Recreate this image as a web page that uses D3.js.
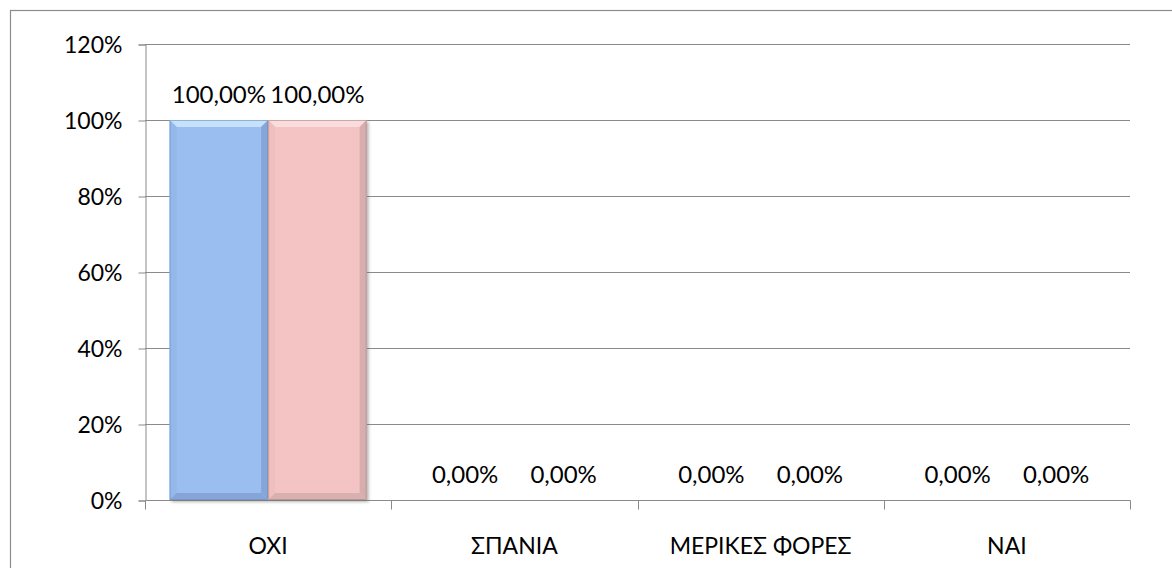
<!DOCTYPE html>
<html>
<head>
<meta charset="utf-8">
<script src="https://cdn.jsdelivr.net/npm/d3@7"></script>
<style>
html,body{margin:0;padding:0;background:#fff;}
svg{display:block;}
text{font-family:Lato,"Open Sans",sans-serif;fill:#000;}
</style>
</head>
<body>
<svg id="chart" width="1172" height="568"></svg>
<script>
const categories = ["ΟΧΙ", "ΣΠΑΝΙΑ", "ΜΕΡΙΚΕΣ ΦΟΡΕΣ", "ΝΑΙ"];
const seriesA = [1.00, 0.00, 0.00, 0.00];
const seriesB = [1.00, 0.00, 0.00, 0.00];
const yTickValues = [0, 0.2, 0.4, 0.6, 0.8, 1.0, 1.2];

const svg = d3.select("#chart");
const W = 1172, H = 568;
const plot = {left: 145, right: 1130, top: 44, bottom: 500};

const locale = d3.formatLocale({decimal: ",", thousands: ".", grouping: [3], currency: ["", "€"]});
const fmtLabel = locale.format(".2%");
const fmtTick = locale.format(".0%");

// outer border
svg.append("rect").attr("x", 10.5).attr("y", 10.5).attr("width", W).attr("height", H)
  .attr("fill", "#fff").attr("stroke", "#8c8c8c").attr("stroke-width", 1.2);

const x = d3.scaleBand().domain(categories).range([plot.left, plot.right]).padding(0);
const inner = d3.scaleBand().domain([0, 1]).range([0, x.bandwidth()]).paddingInner(0).paddingOuter(0.25);
const y = d3.scaleLinear().domain([0, 1.2]).range([plot.bottom, plot.top]);

// gridlines
svg.append("g").selectAll("line").data(yTickValues.filter(d => d > 0)).join("line")
  .attr("x1", plot.left).attr("x2", plot.right)
  .attr("y1", d => Math.round(y(d)) + 0.5).attr("y2", d => Math.round(y(d)) + 0.5)
  .attr("stroke", "#8a8a8a").attr("stroke-width", 1);

// y axis
const yAxis = svg.append("g").attr("transform", `translate(${plot.left + 0.5},0.5)`)
  .call(d3.axisLeft(y).tickValues(yTickValues).tickFormat(fmtTick).tickSize(7).tickPadding(16));
yAxis.select(".domain").attr("stroke", "#8a8a8a");
yAxis.selectAll(".tick line").attr("stroke", "#8a8a8a");
yAxis.selectAll(".tick text").attr("font-size", 23).attr("font-family", "Lato,'Open Sans',sans-serif")
  .attr("dy", "0.36em").attr("fill", "#000");

// x axis
const xAxis = svg.append("g").attr("transform", `translate(0.5,${plot.bottom + 0.5})`);
xAxis.append("line").attr("x1", plot.left).attr("x2", plot.right).attr("stroke", "#8a8a8a");
const boundaries = categories.map(c => x(c)).concat([plot.right]);
xAxis.selectAll("line.tk").data(boundaries).join("line").attr("class", "tk")
  .attr("x1", d => Math.round(d)).attr("x2", d => Math.round(d)).attr("y1", 0).attr("y2", 9)
  .attr("stroke", "#8a8a8a");
svg.append("g").selectAll("text").data(categories).join("text")
  .attr("x", d => x(d) + x.bandwidth() / 2).attr("y", 554)
  .attr("text-anchor", "middle").attr("font-size", 23).text(d => d);

// defs
const defs = svg.append("defs");
const filt = defs.append("filter").attr("id", "shadow").attr("x", "-10%").attr("y", "-10%").attr("width", "130%").attr("height", "130%");
filt.append("feGaussianBlur").attr("stdDeviation", 1.5);

const palettes = [
  {main: "#9bbef0", top: "#c6e1fa", left: "#94b8ec", right: "#86a6d8", bottom: "#86a5d6", stroke: "#6f8dbd"},
  {main: "#f4c3c3", top: "#fadcdc", left: "#efbfbf", right: "#d6aeae", bottom: "#d8b0b0", stroke: "#a88585"}
];

const series = [seriesA, seriesB];
const bars = [];
series.forEach((vals, si) => vals.forEach((v, ci) => bars.push({si, ci, v, cat: categories[ci]})));

const gBars = svg.append("g");
bars.forEach(b => {
  const x0 = x(b.cat) + inner(b.si), x1 = x0 + inner.bandwidth();
  const y0 = y(b.v), y1 = y(0);
  if (y1 - y0 < 2) return;
  const p = palettes[b.si];
  const bv = 7;
  const g = gBars.append("g");
  g.append("rect").attr("x", x0 + 2).attr("y", y0 + 2).attr("width", x1 - x0).attr("height", y1 - y0)
    .attr("fill", "#6e6e6e").attr("opacity", 0.5).attr("filter", "url(#shadow)");
  g.append("rect").attr("x", x0).attr("y", y0).attr("width", x1 - x0).attr("height", y1 - y0).attr("fill", p.main);
  const poly = (pts, fill) => g.append("polygon").attr("points", pts.map(q => q.join(",")).join(" ")).attr("fill", fill);
  poly([[x0, y0], [x1, y0], [x1 - bv, y0 + bv], [x0 + bv, y0 + bv]], p.top);
  poly([[x0, y0], [x0 + bv, y0 + bv], [x0 + bv, y1 - bv], [x0, y1]], p.left);
  poly([[x1, y0], [x1, y1], [x1 - bv, y1 - bv], [x1 - bv, y0 + bv]], p.right);
  poly([[x0, y1], [x0 + bv, y1 - bv], [x1 - bv, y1 - bv], [x1, y1]], p.bottom);
  g.append("rect").attr("x", x0 + 0.5).attr("y", y0 + 0.5).attr("width", x1 - x0 - 1).attr("height", y1 - y0 - 1)
    .attr("fill", "none").attr("stroke", p.stroke).attr("stroke-width", 1).attr("opacity", 0.6);
});

// data labels
svg.append("g").selectAll("text").data(bars).join("text")
  .attr("x", d => x(d.cat) + inner(d.si) + inner.bandwidth() / 2)
  .attr("y", d => y(d.v) - 17)
  .attr("text-anchor", "middle").attr("font-size", 24)
  .text(d => fmtLabel(d.v));
</script>
</body>
</html>
